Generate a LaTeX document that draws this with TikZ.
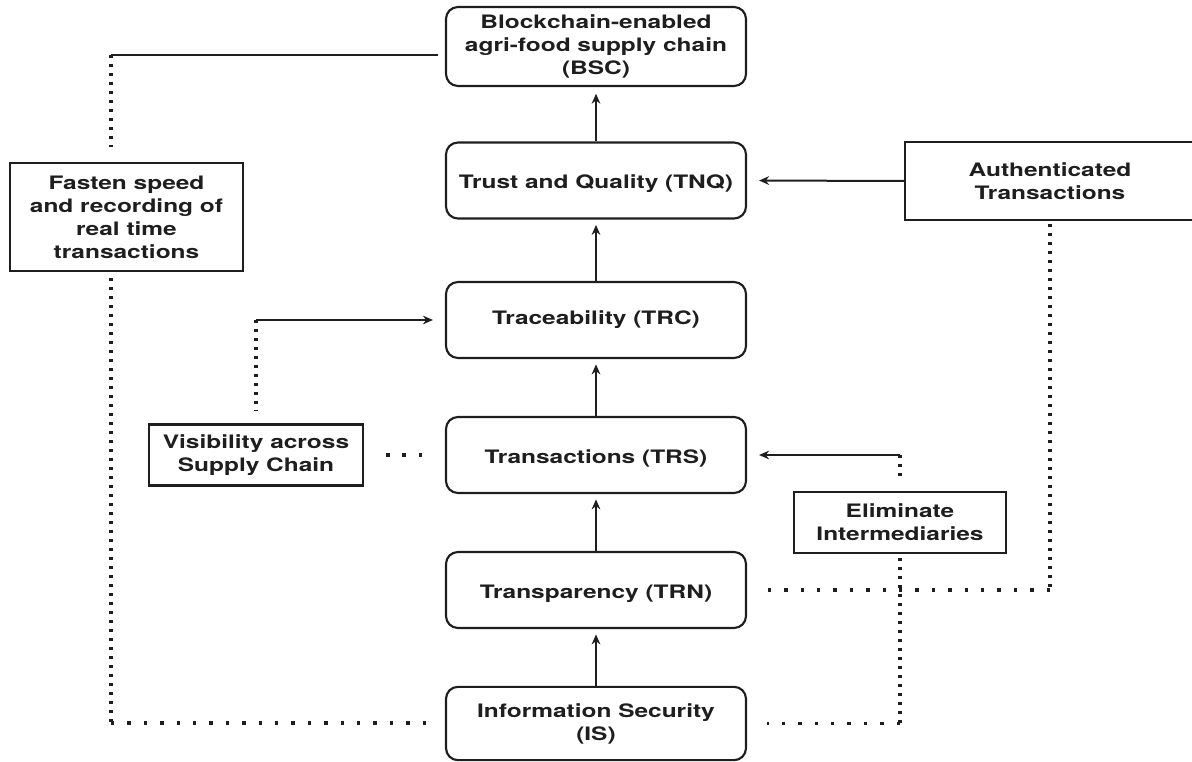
\documentclass[tikz,border=0pt]{standalone}
\usepackage{fontspec}
\setmainfont{TeX Gyre Heros}[FakeStretch=1.32]
\usetikzlibrary{arrows.meta}
\definecolor{ink}{HTML}{1E1E1E}
% lower a one-line label a little without changing its box
\newcommand{\lowered}[1]{\raisebox{-2.5pt}[\height][\depth]{#1}}
\begin{document}
\begin{tikzpicture}[x=0.75pt,y=-0.75pt,
  font=\fontsize{13.9pt}{17.2pt}\selectfont\bfseries,
  every node/.style={text=ink, align=center, inner sep=0pt},
  mainbox/.style={draw=ink, line width=1.6pt, rounded corners=9pt,
    minimum width=225pt, minimum height=57pt},
  notebox/.style={draw=ink, line width=1.6pt},
  flow/.style={draw=ink, line width=1.5pt, -{Stealth[length=7.5pt,width=6.5pt]}},
  plain/.style={draw=ink, line width=1.5pt},
  vdots/.style={draw=ink, line width=2.3pt, dash pattern=on 2.2pt off 4.55pt},
  hdots/.style={draw=ink, line width=2.3pt, dash pattern=on 2.6pt off 9.7pt}
]
\useasboundingbox (0,0) rectangle (1192,762);

% central chain
\node[mainbox, minimum height=59.25pt] (bsc) at (596,46.5)
  {Blockchain-enabled\\agri-food supply chain\\(BSC)};
\node[mainbox] (tnq) at (596,180.5) {\lowered{Trust and Quality (TNQ)}};
\node[mainbox] (trc) at (596,320) {Traceability (TRC)};
\node[mainbox] (trs) at (596,455) {\lowered{Transactions (TRS)}};
\node[mainbox] (trn) at (596,590) {\lowered{Transparency (TRN)}};
\node[mainbox, minimum height=55pt] (is) at (596,723.5)
  {Information Security\\(IS)};

% side notes
\node[notebox, minimum width=174.75pt, minimum height=81pt] (fast) at (126.5,217)
  {Fasten speed\\and recording of\\real time\\transactions};
\node[notebox, minimum width=160.5pt, minimum height=45.75pt] (vis) at (256,455)
  {Visibility across\\Supply Chain};
\node[notebox, minimum width=217.5pt, minimum height=58.5pt] (auth) at (1050,181)
  {Authenticated\\Transactions};
\node[notebox, minimum width=159pt, minimum height=45.75pt] (elim) at (900,522.5)
  {Eliminate\\Intermediaries};

% upward flow
\draw[flow, shorten >=5pt] (tnq.north) -- (bsc.south);
\draw[flow, shorten >=4pt] (trc.north) -- (tnq.south);
\draw[flow, shorten >=4pt] (trs.north) -- (trc.south);
\draw[flow, shorten >=4pt] (trn.north) -- (trs.south);
\draw[flow, shorten >=4pt] (is.north) -- (trn.south);

% bend points of the side connectors
\coordinate (fa) at (111,55);
\coordinate (fb) at (111,723);
\coordinate (va) at (vis.north |- trc.west);
\coordinate (ea) at (elim.north |- trs.east);
\coordinate (eb) at (elim.south |- is.east);
\coordinate (aa) at (auth.south |- trn.east);

% fasten speed
\draw[plain, shorten <=5pt] (bsc.west |- fa) -- (fa);
\draw[vdots, shorten >=11pt] (fa) -- (fast.north -| fa);
\draw[vdots, shorten <=4.5pt] (fast.south -| fa) -- (fb);
\draw[hdots, shorten >=9pt] (fb) -- (is.west |- fb);

% visibility
\draw[flow, shorten >=9pt] (va) -- (trc.west);
\draw[vdots, shorten >=10pt] (va) -- (vis.north);
\draw[hdots, shorten <=16.5pt, shorten >=11pt] (vis.east) -- (trs.west);

% authenticated transactions
\draw[flow, shorten >=9pt] (auth.west) -- (tnq.east);
\draw[vdots, shorten <=2pt] (auth.south) -- (aa);
\draw[hdots, shorten >=15pt] (aa) -- (trn.east);

% eliminate intermediaries
\draw[flow, shorten >=9pt] (ea) -- (trs.east);
\draw[vdots, shorten >=11pt] (ea) -- (elim.north);
\draw[vdots, shorten <=3pt] (elim.south) -- (eb);
\draw[hdots, shorten >=15pt] (eb) -- (is.east);
\end{tikzpicture}
\end{document}
